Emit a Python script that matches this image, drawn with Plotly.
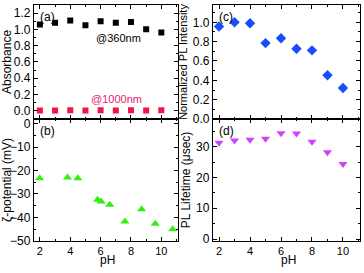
import plotly.graph_objects as go

ph_a = [2, 3, 4, 5, 6, 7, 8, 9, 10]
abs_360 = [1.06, 1.08, 1.11, 1.05, 1.10, 1.08, 1.09, 1.00, 0.96]
abs_1000 = [0.005, 0.005, 0.008, 0.005, 0.006, 0.005, 0.008, 0.005, 0.007]

ph_b = [1.98, 3.82, 4.5, 5.8, 6.03, 6.6, 7.6, 8.7, 9.6, 10.75]
zeta = [-23.3, -23.0, -23.3, -32.5, -33.2, -34.6, -41.7, -36.5, -42.7, -45.0]

ph_c = [2, 3, 4, 5, 6, 7, 8, 9, 10]
pl_int = [0.957, 1.0, 0.99, 0.785, 0.835, 0.726, 0.71, 0.452, 0.32]

ph_d = [2, 3, 4, 5, 6, 7, 8, 9, 10]
lifetime = [31.3, 32.0, 32.3, 32.6, 34.4, 34.3, 31.6, 28.2, 24.4]

W, H = 364, 273
FONT = "Liberation Sans, Arial, sans-serif"

fig = go.Figure()

fig.add_trace(go.Scatter(x=ph_a, y=abs_360, mode="markers", xaxis="x", yaxis="y",
                         marker=dict(symbol="square", size=6, color="black")))
fig.add_trace(go.Scatter(x=ph_a, y=abs_1000, mode="markers", xaxis="x", yaxis="y",
                         marker=dict(symbol="square", size=6, color="#f01448")))
fig.add_trace(go.Scatter(x=ph_b, y=zeta, mode="markers", xaxis="x2", yaxis="y2",
                         marker=dict(symbol="triangle-up", size=8, color="#33ee11")))
fig.add_trace(go.Scatter(x=ph_c, y=pl_int, mode="markers", xaxis="x3", yaxis="y3",
                         marker=dict(symbol="diamond", size=8, color="#1a4cff")))
fig.add_trace(go.Scatter(x=ph_d, y=lifetime, mode="markers", xaxis="x4", yaxis="y4",
                         marker=dict(symbol="triangle-down", size=8, color="#cc44ff")))

xl = [32 / W, 177 / W]
xr = [212 / W, 360 / W]
ytop = [(H - 121) / H, (H - 3) / H]
ybot = [(H - 247) / H, (H - 121) / H]

xrange_ = [1.6, 11.1]

def xax(domain, anchor, labels):
    return dict(domain=domain, anchor=anchor, range=xrange_, tickvals=[2, 4, 6, 8, 10],
                showticklabels=labels, ticks="inside", ticklen=4, tickcolor="black",
                showline=True, linecolor="black", linewidth=1, mirror="ticks",
                showgrid=False, zeroline=False,
                minor=dict(tickvals=[3, 5, 7, 9, 11], ticks="inside", ticklen=2, tickcolor="black"),
                tickfont=dict(size=11))

def yax(domain, anchor, rng, tv, minor, title, tt=None, tsize=12):
    d = dict(domain=domain, anchor=anchor, range=rng, tickvals=tv,
             ticks="inside", ticklen=4, tickcolor="black",
             showline=True, linecolor="black", linewidth=1, mirror="ticks",
             showgrid=False, zeroline=False,
             minor=dict(tickvals=minor, ticks="inside", ticklen=2, tickcolor="black"),
             title=dict(text=title, font=dict(size=tsize), standoff=2),
             tickfont=dict(size=12))
    if tt is not None:
        d["ticktext"] = tt
    return d

fig.update_layout(
    width=W, height=H, margin=dict(l=0, r=0, t=0, b=0),
    paper_bgcolor="white", plot_bgcolor="white", showlegend=False,
    font=dict(family=FONT, color="black", size=12),
    xaxis=xax(xl, "y", False),
    yaxis=yax(ytop, "x", [-0.1, 1.3], [0, 0.2, 0.4, 0.6, 0.8, 1.0, 1.2],
              [0.1, 0.3, 0.5, 0.7, 0.9, 1.1], "Absorbance",
              ["0.0", "0.2", "0.4", "0.6", "0.8", "1.0", "1.2"]),
    xaxis2=xax(xl, "y2", True),
    yaxis2=yax(ybot, "x2", [-50, 2], [-50, -40, -30, -20, -10, 0],
               [-45, -35, -25, -15, -5], "ζ-potential (mV)"),
    xaxis3=xax(xr, "y3", False),
    yaxis3=yax(ytop, "x3", [0, 1.18], [0, 0.2, 0.4, 0.6, 0.8, 1.0],
               [0.1, 0.3, 0.5, 0.7, 0.9, 1.1], "Normalized PL Intensity",
               ["0.0", "0.2", "0.4", "0.6", "0.8", "1.0"], tsize=11),
    xaxis4=xax(xr, "y4", True),
    yaxis4=yax(ybot, "x4", [-0.6, 39], [0, 10, 20, 30],
               [5, 15, 25, 35], "PL Lifetime (μsec)"),
)

ann = [
    dict(text="(a)", x=xl[0] + 0.012, y=ytop[1] - 0.012, xanchor="left", yanchor="top"),
    dict(text="(b)", x=xl[0] + 0.012, y=ybot[1] - 0.012, xanchor="left", yanchor="top"),
    dict(text="(c)", x=xr[0] + 0.012, y=ytop[1] - 0.012, xanchor="left", yanchor="top"),
    dict(text="(d)", x=xr[0] + 0.012, y=ybot[1] - 0.012, xanchor="left", yanchor="top"),
]
for a in ann:
    fig.add_annotation(xref="paper", yref="paper", showarrow=False,
                       font=dict(size=12, family=FONT, color="black"), **a)

for dom in (xl, xr):
    fig.add_annotation(xref="paper", yref="paper", x=(dom[0] + dom[1]) / 2 + 2 / W,
                       y=-2 / H, text="pH", showarrow=False,
                       xanchor="center", yanchor="bottom", borderpad=0,
                       font=dict(size=12, family=FONT, color="black"))

fig.add_annotation(xref="x", yref="y", x=5.55, y=0.9, text="@360nm", showarrow=False,
                   xanchor="left", font=dict(size=11, family=FONT, color="black"))
fig.add_annotation(xref="x", yref="y", x=5.25, y=0.145, text="@1000nm", showarrow=False,
                   xanchor="left", font=dict(size=11, family=FONT, color="#e8246e"))

fig.write_html("out.html", config={"displayModeBar": False},
               post_script="document.body.style.margin='0';document.body.style.overflow='hidden';")
